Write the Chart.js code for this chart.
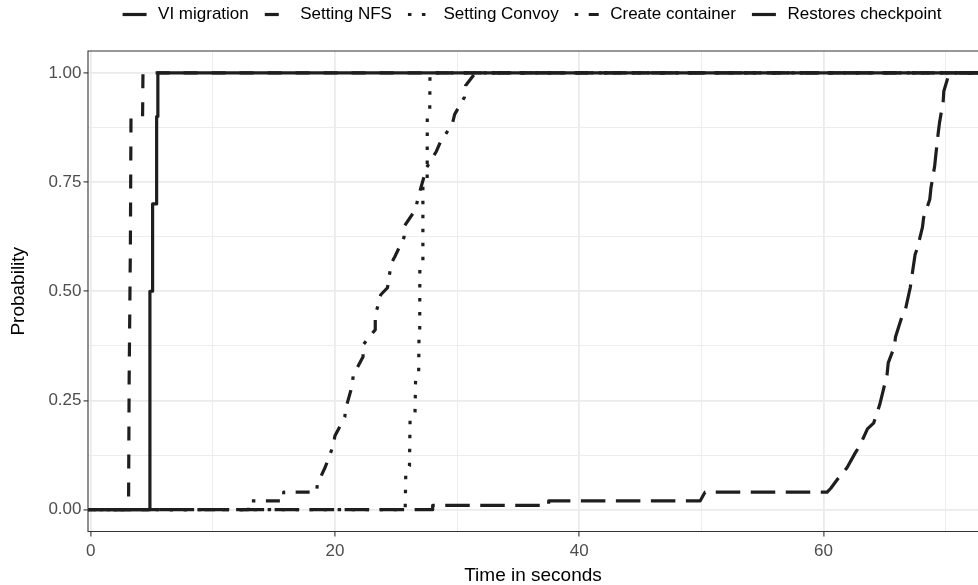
<!DOCTYPE html>
<html><head><meta charset="utf-8">
<script src="https://cdn.jsdelivr.net/npm/chart.js@4"></script>
<style>html,body{margin:0;padding:0;background:#fff;overflow:hidden}canvas{display:block}</style>
</head><body>
<canvas id="c" width="978" height="585"></canvas>
<script>
// ---- data (vertices) ----
const seriesNames = ['VI migration', 'Setting NFS', 'Setting Convoy', 'Create container', 'Restores checkpoint'];

const viX = [-5, 28.0, 28.0, 37.5, 37.5, 49.9, 50.1, 50.3, 60.3, 60.6, 61.4, 61.9, 62.6, 63.0, 63.6, 64.1, 64.6, 64.8, 65.2, 65.3, 65.8, 65.9, 66.4, 66.7, 67.1, 67.5, 67.7, 68.1, 68.2, 68.7, 68.8, 69.1, 69.2, 69.4, 69.5, 69.8, 69.85, 70.3, 100];
const viY = [0, 0, 0.01, 0.01, 0.02, 0.02, 0.03, 0.04, 0.04, 0.049, 0.079, 0.095, 0.13, 0.148, 0.185, 0.198, 0.24, 0.263, 0.308, 0.336, 0.373, 0.396, 0.44, 0.457, 0.508, 0.584, 0.60, 0.646, 0.669, 0.71, 0.737, 0.786, 0.813, 0.864, 0.886, 0.935, 0.958, 1.0, 1.0];

const nfsX = [-5, 3.1, 3.15, 3.25, 3.3, 4.25, 4.28, 100];
const nfsY = [0, 0, 0.3, 0.6, 0.9, 0.9, 1.0, 1.0];

const convoyX = [-5, 25.75, 25.8, 26.1, 26.15, 26.55, 26.6, 26.85, 26.88, 26.94, 26.95, 27.2, 27.2, 27.55, 27.56, 27.76, 27.78, 100];
const convoyY = [0, 0, 0.085, 0.1, 0.205, 0.215, 0.295, 0.305, 0.39, 0.4, 0.555, 0.565, 0.74, 0.75, 0.9, 0.91, 1.0, 1.0];

const containerX = [-5, 12.9, 12.9, 15.8, 15.8, 18.5, 18.55, 18.9, 19.2, 19.85, 20.0, 20.8, 20.9, 21.4, 21.5, 22.3, 22.3, 23.3, 23.3, 23.75, 24.3, 24.6, 24.9, 25.65, 25.7, 26.6, 26.8, 27.3, 27.5, 28.3, 28.65, 29.6, 29.8, 30.6, 30.7, 31.5, 100];
const containerY = [0, 0, 0.02, 0.02, 0.04, 0.04, 0.056, 0.079, 0.097, 0.146, 0.169, 0.212, 0.233, 0.283, 0.308, 0.35, 0.377, 0.412, 0.444, 0.492, 0.508, 0.563, 0.579, 0.623, 0.65, 0.687, 0.714, 0.763, 0.783, 0.82, 0.843, 0.882, 0.905, 0.944, 0.971, 1.0, 1.0];

const restoreX = [-5, 4.8, 4.85, 5.05, 5.07, 5.38, 5.4, 5.49, 5.5, 100];
const restoreY = [0, 0, 0.5, 0.5, 0.7, 0.7, 0.9, 0.9, 1.0, 1.0];

const xTicks = [0, 10, 20, 30, 40, 50, 60, 70];
const xTickLabels = ['0', '', '20', '', '40', '', '60', ''];
const yTicks = [0, 0.125, 0.25, 0.375, 0.5, 0.625, 0.75, 0.875, 1];
const yTickLabels = ['0.00', '', '0.25', '', '0.50', '', '0.75', '', '1.00'];

// ---- styling ----
const U = 3.5;
const dashes = [[7*U, 3*U], [4*U, 4*U], [1*U, 3*U], [1*U, 3*U, 4*U, 3*U], []];
const LINE = '#1e1e1e';
const FONT = "'Liberation Sans', Arial, Helvetica, sans-serif";
Chart.defaults.font.family = FONT;

const xs = [viX, nfsX, convoyX, containerX, restoreX];
const ys = [viY, nfsY, convoyY, containerY, restoreY];
const datasets = seriesNames.map((name, i) => ({
  label: name,
  data: xs[i].map((x, j) => ({x: x, y: ys[i][j]})),
  borderColor: LINE,
  backgroundColor: LINE,
  borderWidth: 3.2,
  borderDash: dashes[i],
  borderCapStyle: 'butt',
  borderJoinStyle: 'round',
  pointRadius: 0,
  fill: false,
  tension: 0
}));

const isMajorX = v => xTickLabels[xTicks.indexOf(v)] !== '';
const isMajorY = v => yTickLabels[yTicks.indexOf(v)] !== '';

const panelBorder = {
  id: 'panelBorder',
  afterDatasetsDraw(chart) {
    const a = chart.chartArea, ctx = chart.ctx;
    ctx.save();
    ctx.strokeStyle = '#333333';
    ctx.lineWidth = 1.1;
    ctx.setLineDash([]);
    ctx.beginPath();
    ctx.moveTo(a.right + 5, a.top);
    ctx.lineTo(a.left, a.top);
    ctx.lineTo(a.left, a.bottom);
    ctx.lineTo(a.right + 5, a.bottom);
    ctx.stroke();
    ctx.restore();
  }
};

const topLegend = {
  id: 'topLegend',
  afterDraw(chart) {
    const ctx = chart.ctx;
    const keyW = 24, gap = 11.5, spacing = 16, cy = 14;
    ctx.save();
    ctx.font = '17px ' + FONT;
    const widths = chart.data.datasets.map(d => ctx.measureText(d.label).width);
    const total = widths.reduce((s, w) => s + w + keyW + gap, 0) + spacing * (widths.length - 1);
    let x = 532 - total / 2;
    chart.data.datasets.forEach((d, i) => {
      ctx.strokeStyle = d.borderColor;
      ctx.lineWidth = d.borderWidth;
      ctx.lineCap = 'butt';
      ctx.setLineDash(d.borderDash);
      ctx.lineDashOffset = 0;
      ctx.beginPath();
      ctx.moveTo(x, cy + 0.5);
      ctx.lineTo(x + keyW, cy + 0.5);
      ctx.stroke();
      ctx.setLineDash([]);
      ctx.fillStyle = '#000';
      ctx.textBaseline = 'middle';
      ctx.textAlign = 'left';
      ctx.fillText(d.label, x + keyW + gap, cy);
      x += keyW + gap + widths[i] + spacing;
    });
    ctx.restore();
  }
};

new Chart(document.getElementById('c'), {
  type: 'line',
  data: {datasets: datasets},
  plugins: [panelBorder, topLegend],
  options: {
    responsive: false,
    animation: false,
    devicePixelRatio: 1,
    layout: {padding: {top: 51, left: 0, right: 0, bottom: 0}},
    plugins: {legend: {display: false}, tooltip: {enabled: false}},
    scales: {
      x: {
        type: 'linear',
        min: -0.22,
        max: 72.65,
        afterBuildTicks: s => { s.ticks = xTicks.map(v => ({value: v})); },
        afterFit: s => { s.height = 53.5; },
        ticks: {
          autoSkip: false, maxRotation: 0, padding: 5,
          color: '#4d4d4d', font: {size: 17},
          callback: v => xTickLabels[xTicks.indexOf(v)]
        },
        grid: {
          color: '#ebebeb',
          lineWidth: c => (c.tick && isMajorX(c.tick.value)) ? 1.8 : 0.9,
          drawTicks: true, tickLength: 5, tickWidth: 1.1,
          tickColor: c => (c.tick && isMajorX(c.tick.value)) ? '#333333' : 'rgba(0,0,0,0)'
        },
        border: {display: false},
        title: {display: true, text: 'Time in seconds', color: '#000', font: {size: 19, lineHeight: 1}, padding: {top: 0, bottom: 0}}
      },
      y: {
        type: 'linear',
        min: -0.05,
        max: 1.05,
        afterBuildTicks: s => { s.ticks = yTicks.map(v => ({value: v})); },
        afterFit: s => { s.width = 88; },
        ticks: {
          autoSkip: false, padding: 2,
          color: '#4d4d4d', font: {size: 17},
          callback: v => yTickLabels[yTicks.indexOf(v)]
        },
        grid: {
          color: '#ebebeb',
          lineWidth: c => (c.tick && isMajorY(c.tick.value)) ? 1.8 : 0.9,
          drawTicks: true, tickLength: 4.5, tickWidth: 1.1,
          tickColor: c => (c.tick && isMajorY(c.tick.value)) ? '#333333' : 'rgba(0,0,0,0)'
        },
        border: {display: false},
        title: {display: true, text: 'Probability', color: '#000', font: {size: 19, lineHeight: 1}, padding: {top: 9, bottom: 0}}
      }
    }
  }
});
</script>
</body></html>
